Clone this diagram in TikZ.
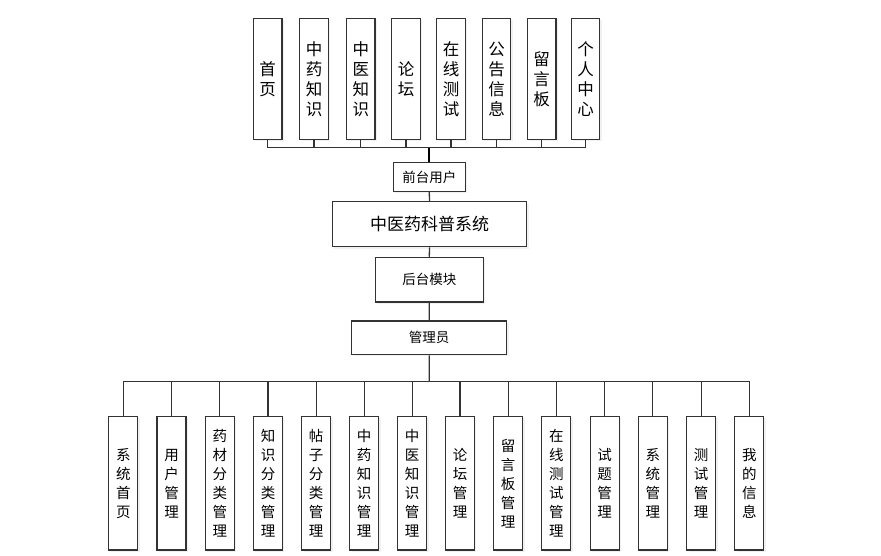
\documentclass[tikz,border=0pt]{standalone}
\usepackage{fontspec}
\newfontfamily\cjk{Noto Sans CJK SC}
\usetikzlibrary{shadows}
\tikzset{
  box/.style={draw=black!80, line width=1.2pt, fill=white, inner sep=0pt,
    drop shadow={shadow xshift=1.8pt, shadow yshift=-1.8pt, fill=blue!20!black!30, opacity=0.18},
    align=center, text=black},
  topbox/.style={box, minimum width=28.5pt, minimum height=121pt, font=\cjk\fontsize{16.5}{20}\selectfont},
  botbox/.style={box, minimum width=29pt, minimum height=133.3pt, font=\cjk\fontsize{14.5}{19}\selectfont},
  midbox/.style={box, font=\cjk\fontsize{13.5}{16}\selectfont},
  conn/.style={draw=black!80, line width=1.3pt},
}
\begin{document}
\begin{tikzpicture}[x=1pt,y=1pt]
\useasboundingbox (0,0) rectangle (881,-555);
% top boxes
\foreach \n/\x/\t in {t1/267.7/首\\页, t2/314/中\\药\\知\\识, t3/360.8/中\\医\\知\\识, t4/406/论\\坛,
  t5/451/在\\线\\测\\试, t6/496.5/公\\告\\信\\息, t7/541.7/留\\言\\板, t8/585.5/个\\人\\中\\心}
  \node[topbox] (\n) at (\x,-78.8) {\t};
% centre column
\node[midbox, minimum width=72pt, minimum height=28.6pt] (front) at (429.3,-177) {前台用户};
\node[midbox, minimum width=194.4pt, minimum height=45pt, font=\cjk\fontsize{17}{20}\selectfont] (title) at (429.5,-224.2) {中医药科普系统};
\node[midbox, minimum width=108pt, minimum height=44.7pt] (back) at (429.3,-279.7) {后台模块};
\node[midbox, minimum width=155pt, minimum height=33.7pt] (admin) at (429.2,-337.8) {管理员};
% bottom boxes
\foreach \n/\x/\t in {b1/123.3/系\\统\\首\\页, b2/171.5/用\\户\\管\\理, b3/219.8/药\\材\\分\\类\\管\\理,
  b4/268/知\\识\\分\\类\\管\\理, b5/316.2/帖\\子\\分\\类\\管\\理, b6/364.2/中\\药\\知\\识\\管\\理,
  b7/412.2/中\\医\\知\\识\\管\\理, b8/460/论\\坛\\管\\理, b9/508.2/留\\言\\板\\管\\理,
  b10/556.3/在\\线\\测\\试\\管\\理, b11/604.7/试\\题\\管\\理, b12/652.8/系\\统\\管\\理,
  b13/701.2/测\\试\\管\\理, b14/749.3/我\\的\\信\\息}
  \node[botbox] (\n) at (\x,-483.3) {\t};
% connectors
\coordinate (tb) at (429.3,-147.7);
\coordinate (bb) at (429.3,-381.7);
\foreach \n in {t1,t2,t3,t4,t5,t6,t7,t8}
  \draw[conn] (\n.south) |- (tb);
\draw[conn, draw=black, line width=2.2pt] (tb) -- (front.north);
\draw[conn] (front.south) -- (title.north);
\draw[conn] (title.south) -- (back.north);
\draw[conn] (back.south) -- (admin.north);
\draw[conn] (admin.south) -- (bb);
\foreach \n in {b1,b2,b3,b4,b5,b6,b7,b8,b9,b10,b11,b12,b13,b14}
  \draw[conn] (\n.north) |- (bb);
\end{tikzpicture}
\end{document}
